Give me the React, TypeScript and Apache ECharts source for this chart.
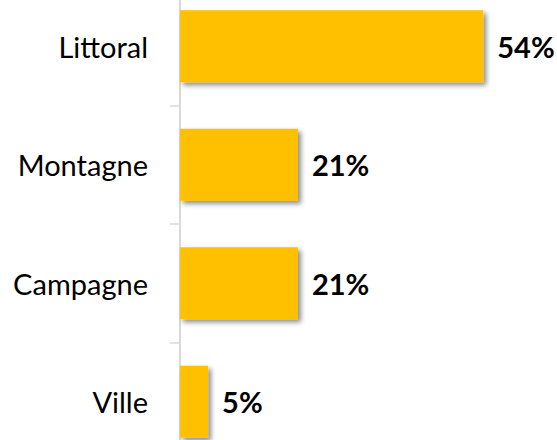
import React, { useEffect, useRef } from "react";
import * as echarts from "echarts";

const categories = ["Littoral", "Montagne", "Campagne", "Ville"];
const values = [54, 21, 21, 5];

export default function App() {
  const ref = useRef<HTMLDivElement>(null);
  useEffect(() => {
    if (!ref.current) return;
    const chart = echarts.init(ref.current, undefined, { renderer: "svg" });
    chart.setOption({
      animation: false,
      grid: { left: 180, right: 40, top: 0, bottom: 0 },
      xAxis: {
        type: "value",
        min: 0,
        max: 60,
        show: false,
      },
      yAxis: {
        type: "category",
        data: categories,
        inverse: true,
        axisLine: { show: true, lineStyle: { color: "#D9D9D9", width: 2 } },
        axisTick: { show: true, length: 10, lineStyle: { color: "#D9D9D9", width: 1.5 } },
        axisLabel: {
          margin: 32,
          color: "#000000",
          fontSize: 29,
          fontFamily: "Lato",
        },
        splitLine: { show: false },
      },
      series: [
        {
          type: "bar",
          data: values,
          barWidth: 72,
          itemStyle: {
            color: "#FFC000",
            shadowColor: "rgba(0,0,0,0.45)",
            shadowBlur: 5,
            shadowOffsetX: 3,
            shadowOffsetY: 3,
          },
          label: {
            show: true,
            position: "right",
            distance: 14,
            formatter: "{c}%",
            color: "#000000",
            fontWeight: "bold",
            fontSize: 29,
            fontFamily: "Lato",
          },
        },
      ],
    });
    return () => chart.dispose();
  }, []);
  return (
    <div style={{ position: "absolute", left: 0, top: 0, width: 557, height: 440, overflow: "hidden" }}>
      <div ref={ref} style={{ position: "absolute", left: 0, top: -13, width: 557, height: 474 }} />
    </div>
  );
}
